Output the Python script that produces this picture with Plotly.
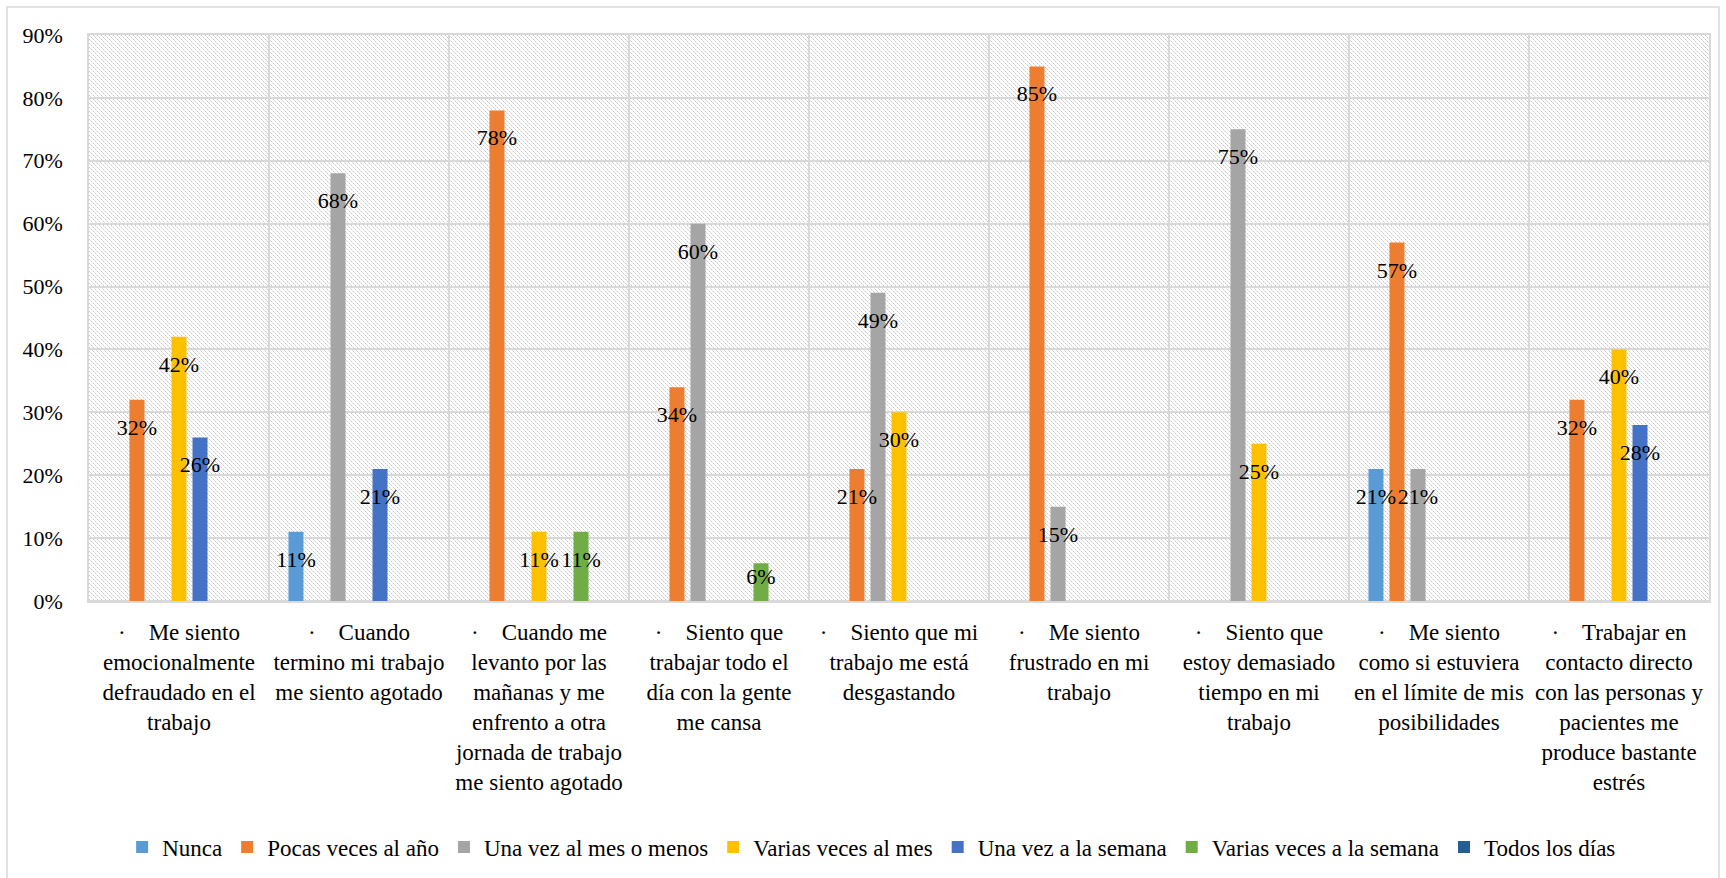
import base64
import plotly.graph_objects as go

categories = [
    "·\u00a0\u00a0\u00a0\u00a0Me siento<br>emocionalmente<br>defraudado en el<br>trabajo",
    "·\u00a0\u00a0\u00a0\u00a0Cuando<br>termino mi trabajo<br>me siento agotado",
    "·\u00a0\u00a0\u00a0\u00a0Cuando me<br>levanto por las<br>mañanas y me<br>enfrento a otra<br>jornada de trabajo<br>me siento agotado",
    "·\u00a0\u00a0\u00a0\u00a0Siento que<br>trabajar todo el<br>día con la gente<br>me cansa",
    "·\u00a0\u00a0\u00a0\u00a0Siento que mi<br>trabajo me está<br>desgastando",
    "·\u00a0\u00a0\u00a0\u00a0Me siento<br>frustrado en mi<br>trabajo",
    "·\u00a0\u00a0\u00a0\u00a0Siento que<br>estoy demasiado<br>tiempo en mi<br>trabajo",
    "·\u00a0\u00a0\u00a0\u00a0Me siento<br>como si estuviera<br>en el límite de mis<br>posibilidades",
    "·\u00a0\u00a0\u00a0\u00a0Trabajar en<br>contacto directo<br>con las personas y<br>pacientes me<br>produce bastante<br>estrés",
]

series_names = [
    "Nunca",
    "Pocas veces al año",
    "Una vez al mes o menos",
    "Varias veces al mes",
    "Una vez a la semana",
    "Varias veces a la semana",
    "Todos los días",
]

nunca = [0, 0.11, 0, 0, 0, 0, 0, 0.21, 0]
pocas_veces_al_anio = [0.32, 0, 0.78, 0.34, 0.21, 0.85, 0, 0.57, 0.32]
una_vez_al_mes = [0, 0.68, 0, 0.60, 0.49, 0.15, 0.75, 0.21, 0]
varias_veces_al_mes = [0.42, 0, 0.11, 0, 0.30, 0, 0.25, 0, 0.40]
una_vez_a_la_semana = [0.26, 0.21, 0, 0, 0, 0, 0, 0, 0.28]
varias_veces_a_la_semana = [0, 0, 0.11, 0.06, 0, 0, 0, 0, 0]
todos_los_dias = [0, 0, 0, 0, 0, 0, 0, 0, 0]

series_values = [nunca, pocas_veces_al_anio, una_vez_al_mes, varias_veces_al_mes,
                 una_vez_a_la_semana, varias_veces_a_la_semana, todos_los_dias]
colors = ["#5B9BD5", "#ED7D31", "#A5A5A5", "#FFC000", "#4472C4", "#70AD47", "#255E91"]

y_ticks = [0, 0.1, 0.2, 0.3, 0.4, 0.5, 0.6, 0.7, 0.8, 0.9]
y_tick_labels = ["0%", "10%", "20%", "30%", "40%", "50%", "60%", "70%", "80%", "90%"]

W, H = 1726, 878
ML, MR, MT, MB = 89, 17, 35, 277
PW, PH = W - ML - MR, H - MT - MB
FONT = "'Liberation Serif', 'Times New Roman', serif"
GRID = "#d9d9d9"
BARGAP = 0.183

# light dotted downward-diagonal hatch for the plot area background
hatch_svg = (
    f"<svg xmlns='http://www.w3.org/2000/svg' width='{PW}' height='{PH}' shape-rendering='crispEdges'>"
    "<defs><pattern id='h' width='4' height='4' patternUnits='userSpaceOnUse'>"
    "<rect x='0' y='0' width='1' height='1' fill='#c8c8c8'/>"
    "<rect x='1' y='1' width='1' height='1' fill='#e2e2e2'/>"
    "<rect x='2' y='2' width='1' height='1' fill='#c8c8c8'/>"
    "<rect x='3' y='3' width='1' height='1' fill='#e2e2e2'/>"
    "</pattern></defs><rect width='100%' height='100%' fill='url(#h)'/></svg>"
)
hatch_uri = "data:image/svg+xml;base64," + base64.b64encode(hatch_svg.encode()).decode()

fig = go.Figure()
for i, (name, vals, col) in enumerate(zip(series_names, series_values, colors)):
    fig.add_trace(go.Bar(
        name=name, x=categories, y=vals, marker_color=col, marker_line_width=0,
        offsetgroup=str(i),
    ))
for i, (name, vals) in enumerate(zip(series_names, series_values)):
    labels = [f"{round(v * 100)}%" if v > 0 else "" for v in vals]
    # label offset below the bar end (short bars keep the label inside the bar)
    sizes = [28 if v >= 0.08 else 5 for v in vals]
    fig.add_trace(go.Scatter(
        x=categories, y=vals, mode="markers+text", text=labels,
        textposition="bottom center",
        textfont=dict(family=FONT, size=22, color="#000000"),
        marker=dict(size=sizes, opacity=0),
        offsetgroup=str(i), showlegend=False, hoverinfo="skip", cliponaxis=False,
    ))

# outer chart border
x0 = (7 - ML) / PW
x1 = (1719 - ML) / PW
y1 = (MT + PH - 7) / PH
y0 = (MT + PH - 890) / PH
fig.add_shape(type="rect", xref="paper", yref="paper", x0=x0, x1=x1, y0=y0, y1=y1,
              line=dict(color=GRID, width=1.5), fillcolor="rgba(0,0,0,0)", layer="below")

fig.add_layout_image(dict(source=hatch_uri, xref="paper", yref="paper", x=0, y=1,
                          sizex=1, sizey=1, sizing="stretch", layer="below",
                          xanchor="left", yanchor="top"))

fig.update_layout(
    width=W, height=H,
    margin=dict(l=ML, r=MR, t=MT, b=MB, pad=0),
    paper_bgcolor="white", plot_bgcolor="rgba(0,0,0,0)",
    barmode="group", bargap=BARGAP, bargroupgap=0.286,
    scattermode="group", scattergap=BARGAP,
    font=dict(family=FONT, color="#000000"),
    showlegend=True,
    legend=dict(orientation="h", xref="container", yref="container",
                x=0.505, xanchor="center", y=1 - 847 / H, yanchor="middle",
                font=dict(family=FONT, size=23, color="#000000"),
                itemwidth=30, traceorder="normal"),
    xaxis=dict(type="category", tickson="boundaries", showgrid=True, gridcolor=GRID,
               gridwidth=1.5, showline=True, linecolor=GRID, linewidth=1.5, mirror=True,
               ticks="", tickangle=0, tickfont=dict(family=FONT, size=23, color="#000000"),
               ticklabelstandoff=10, fixedrange=True),
    yaxis=dict(range=[0, 0.9], tickvals=y_ticks, ticktext=y_tick_labels, showgrid=True,
               gridcolor=GRID, gridwidth=1.5, zeroline=True, zerolinecolor=GRID,
               zerolinewidth=1.5, showline=True, linecolor=GRID, linewidth=1.5, mirror=True,
               ticks="", tickfont=dict(family=FONT, size=22, color="#000000"),
               ticklabelstandoff=20, fixedrange=True),
)

fig.write_html("out.html")
